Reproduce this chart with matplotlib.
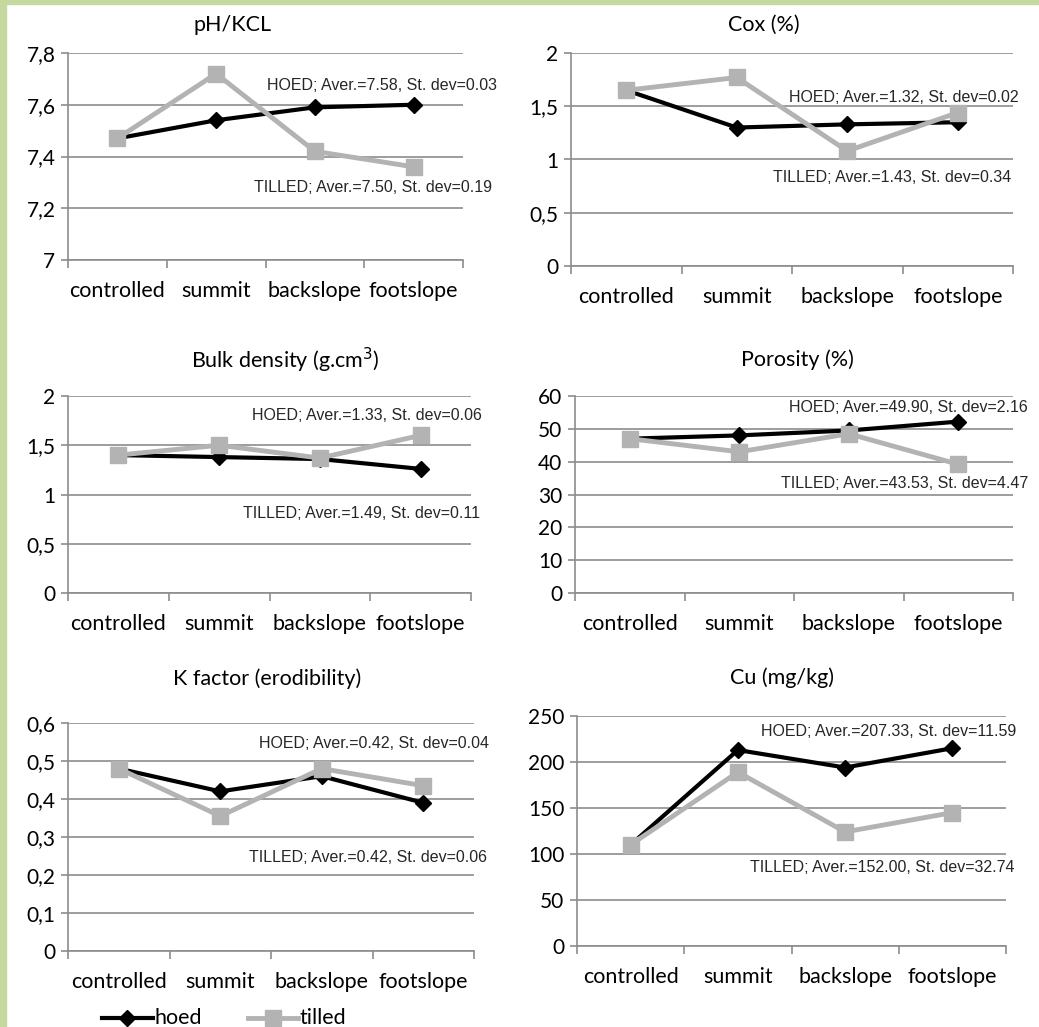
import numpy as np
import matplotlib.pyplot as plt
from matplotlib.lines import Line2D
from matplotlib.patches import Rectangle

# Data
positions = ['controlled', 'summit', 'backslope', 'footslope']

ph_hoed = [7.47, 7.54, 7.59, 7.60]
ph_tilled = [7.47, 7.72, 7.42, 7.36]

cox_hoed = [1.65, 1.30, 1.33, 1.35]
cox_tilled = [1.65, 1.77, 1.08, 1.44]

bulk_hoed = [1.40, 1.38, 1.36, 1.26]
bulk_tilled = [1.40, 1.50, 1.37, 1.60]

por_hoed = [47.0, 48.0, 49.5, 52.2]
por_tilled = [47.0, 43.0, 48.5, 39.2]

k_hoed = [0.48, 0.42, 0.46, 0.39]
k_tilled = [0.48, 0.355, 0.48, 0.435]

cu_hoed = [110, 213, 194, 215]
cu_tilled = [110, 189, 124, 145]

titles = ['pH/KCL', 'Cox (%)', 'Bulk density (g.cm$^3$)', 'Porosity (%)',
          'K factor (erodibility)', 'Cu (mg/kg)']
hoed_notes = ['HOED; Aver.=7.58, St. dev=0.03', 'HOED; Aver.=1.32, St. dev=0.02',
              'HOED; Aver.=1.33, St. dev=0.06', 'HOED; Aver.=49.90, St. dev=2.16',
              'HOED; Aver.=0.42, St. dev=0.04', 'HOED; Aver.=207.33, St. dev=11.59']
tilled_notes = ['TILLED; Aver.=7.50, St. dev=0.19', 'TILLED; Aver.=1.43, St. dev=0.34',
                'TILLED; Aver.=1.49, St. dev=0.11', 'TILLED; Aver.=43.53, St. dev=4.47',
                'TILLED; Aver.=0.42, St. dev=0.06', 'TILLED; Aver.=152.00, St. dev=32.74']
yticks = [[7, 7.2, 7.4, 7.6, 7.8], [0, 0.5, 1, 1.5, 2], [0, 0.5, 1, 1.5, 2],
          [0, 10, 20, 30, 40, 50, 60], [0, 0.1, 0.2, 0.3, 0.4, 0.5, 0.6],
          [0, 50, 100, 150, 200, 250]]
ytick_labels = [['7', '7,2', '7,4', '7,6', '7,8'], ['0', '0,5', '1', '1,5', '2'],
                ['0', '0,5', '1', '1,5', '2'], ['0', '10', '20', '30', '40', '50', '60'],
                ['0', '0,1', '0,2', '0,3', '0,4', '0,5', '0,6'],
                ['0', '50', '100', '150', '200', '250']]
series = [(ph_hoed, ph_tilled), (cox_hoed, cox_tilled), (bulk_hoed, bulk_tilled),
          (por_hoed, por_tilled), (k_hoed, k_tilled), (cu_hoed, cu_tilled)]

# pixel boxes: left, right, top, bottom of the plot area
boxes = [(68, 463, 53, 260), (571, 1013, 53, 266),
         (68, 471, 396, 593), (575, 1013, 396, 593),
         (68, 474, 723, 951), (577, 1006, 716, 946)]
# pixel positions of title centre, hoed note, tilled note (right edge, centre y)
title_pos = [(233, 25), (764, 25), (285, 360), (797, 360), (267, 679), (782, 678)]
hoed_pos = [(497, 85), (1019, 98), (482, 415), (1028, 407), (489, 744), (1016, 731)]
tilled_pos = [(492, 187), (1011, 178), (480, 514), (1028, 484), (487, 857), (1015, 868)]

W, H = 1039, 1027
fig = plt.figure(figsize=(W / 100, H / 100), dpi=100)
fig.patches.append(Rectangle((0, 0), 6 / W, 1, transform=fig.transFigure,
                             color='#c5d89e', zorder=0))
fig.patches.append(Rectangle((0, 1 - 4 / H), 1, 4 / H, transform=fig.transFigure,
                             color='#c5d89e', zorder=0))

grid_col = '#8c8c8c'
calibri = ['Lato', 'DejaVu Sans']
arial = ['Liberation Sans', 'DejaVu Sans']
x = np.arange(len(positions))

for i in range(6):
    l, r, t, b = boxes[i]
    ax = fig.add_axes([l / W, 1 - b / H, (r - l) / W, (b - t) / H])
    hoed, tilled = series[i]
    ax.plot(x, hoed, color='black', lw=3, marker='D', ms=8.5, zorder=3)
    ax.plot(x, tilled, color='#b3b3b3', lw=3.5, marker='s', ms=11, zorder=4)
    ax.set_xlim(-0.5, 3.5)
    ax.set_ylim(yticks[i][0], yticks[i][-1])
    ax.set_yticks(yticks[i])
    ax.set_yticklabels(ytick_labels[i], family=calibri, fontsize=15)
    ax.set_xticks(np.arange(-0.5, 4, 1))
    ax.set_xticklabels([])
    ax.set_xticks(x, minor=True)
    ax.set_xticklabels(positions, minor=True, family=calibri, fontsize=15.5)
    ax.tick_params(axis='x', which='major', length=6, color=grid_col, width=1.2)
    ax.tick_params(axis='x', which='minor', length=0, pad=15)
    ax.tick_params(axis='y', length=5, color=grid_col, width=1.2, pad=4)
    ax.grid(axis='y', color=grid_col, lw=1.2)
    ax.set_axisbelow(True)
    for s in ['top', 'right']:
        ax.spines[s].set_visible(False)
    for s in ['left', 'bottom']:
        ax.spines[s].set_color(grid_col)
        ax.spines[s].set_linewidth(1.2)
    ax.set_facecolor('none')

    tx, ty = title_pos[i]
    fig.text(tx / W, 1 - ty / H, titles[i], ha='center', va='center',
             family=calibri, fontsize=15.5)
    hx, hy = hoed_pos[i]
    fig.text(hx / W, 1 - hy / H, hoed_notes[i], ha='right', va='center',
             family=arial, fontsize=11.5, color='#262626')
    sx, sy = tilled_pos[i]
    fig.text(sx / W, 1 - sy / H, tilled_notes[i], ha='right', va='center',
             family=arial, fontsize=11.5, color='#262626')

# legend at the bottom
ly = 1 - 1018 / H
fig.lines.append(Line2D([102 / W, 153 / W], [ly, ly], transform=fig.transFigure,
                        color='black', lw=3))
fig.lines.append(Line2D([127 / W], [ly], transform=fig.transFigure,
                        color='black', marker='D', ms=8.5))
fig.text(155 / W, ly, 'hoed', ha='left', va='center', family=calibri, fontsize=15.5)
fig.lines.append(Line2D([248 / W, 298 / W], [ly, ly], transform=fig.transFigure,
                        color='#b3b3b3', lw=3.5))
fig.lines.append(Line2D([273 / W], [ly], transform=fig.transFigure,
                        color='#b3b3b3', marker='s', ms=11))
fig.text(300 / W, ly, 'tilled', ha='left', va='center', family=calibri, fontsize=15.5)

fig.savefig('out.png', dpi=100)
